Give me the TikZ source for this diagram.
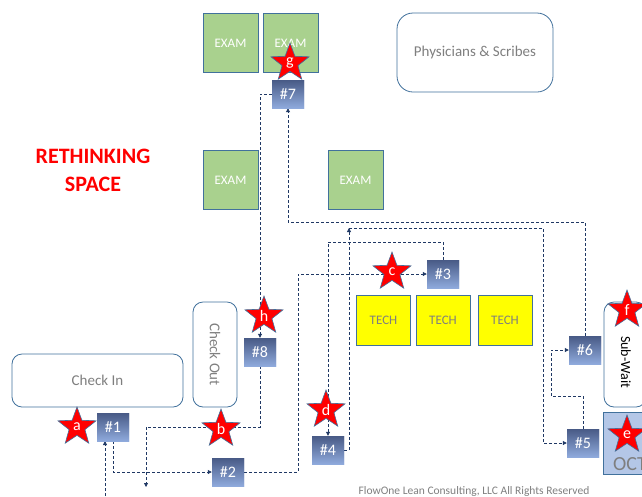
\documentclass[tikz,border=0pt]{standalone}
\usepackage{fontspec}
\setmainfont{Carlito}
\usetikzlibrary{shapes.geometric,arrows.meta}
\definecolor{flowblue}{HTML}{1F3864}
\definecolor{roomedge}{HTML}{41719C}
\definecolor{examgreen}{HTML}{A9D18E}
\definecolor{techyellow}{HTML}{FFFF00}
\definecolor{octblue}{HTML}{B4C7E7}
\definecolor{numtop}{HTML}{485A86}
\definecolor{numbot}{HTML}{8FAADC}
\definecolor{textgray}{HTML}{7F7F7F}
\tikzset{
  flow/.style={draw=flowblue, line width=0.8pt, dash pattern=on 3pt off 2pt},
  flowtip/.style={-{Triangle[length=4pt,width=4pt]}},
  exam/.style={rectangle, fill=examgreen, draw=roomedge, line width=0.7pt,
    minimum width=55pt, minimum height=59pt, text=white,
    font=\fontsize{13}{13}\selectfont},
  tech/.style={rectangle, fill=techyellow, draw=roomedge, line width=0.7pt,
    minimum width=54pt, minimum height=50pt, text=textgray,
    font=\fontsize{13}{13}\selectfont},
  area/.style={rectangle, rounded corners=10pt, draw=roomedge, line width=0.8pt,
    fill=white, text=textgray, font=\fontsize{15}{15}\selectfont},
  stepnum/.style={rectangle, minimum width=32pt, minimum height=28pt,
    top color=numtop, bottom color=numbot, text=white, inner sep=0pt,
    font=\fontsize{16}{16}\selectfont},
  flag/.style={star, star points=5, star point ratio=2.4, fill=red,
    draw=roomedge, line width=0.6pt, minimum size=40pt, inner sep=0pt,
    text=white, font=\fontsize{16}{16}\selectfont}
}
\begin{document}
\begin{tikzpicture}[x=1pt,y=-1pt]
\useasboundingbox (0,0) rectangle (642,496);
\clip (0,0) rectangle (642,496);
% Title
\node[text=red, font=\bfseries\fontsize{22}{28}\selectfont, align=center] (title) at (93,170) {RETHINKING\\SPACE};
% Rooms
\node[exam] (exam1) at (230.5,43) {EXAM};
\node[exam] (exam2) at (290.5,43) {EXAM};
\node[exam] (exam3) at (230.5,180) {EXAM};
\node[exam] (exam4) at (355.5,180) {EXAM};
\node[tech] (tech1) at (383.5,320) {TECH};
\node[tech] (tech2) at (443,320) {TECH};
\node[tech] (tech3) at (505,320) {TECH};
\node[area, rounded corners=16pt, minimum width=156pt, minimum height=79pt] (phys) at (475,52.5) {Physicians \& Scribes};
\node[area, minimum width=171pt, minimum height=53pt] (checkin) at (97.5,380.5) {Check In};
\node[area, minimum width=44pt, minimum height=105pt] (checkout) at (215,354.5) {};
\node[rotate=-90, text=textgray, font=\fontsize{15}{15}\selectfont] (checkoutlbl) at (checkout.center) {Check Out};
\node[area, minimum width=42pt, minimum height=105pt] (subwait) at (625,354.5) {};
\node[rotate=-90, text=black, font=\fontsize{14}{14}\selectfont] (subwaitlbl) at (626,362) {Sub-Wait};
\node[rectangle, fill=octblue, draw=roomedge, line width=0.8pt, minimum width=48pt, minimum height=62pt] (oct) at (627,443) {};
\node[text=textgray, font=\fontsize{20}{20}\selectfont] (octlbl) at (630,464) {OCT};
% Flow connectors
\coordinate (entry) at (105,496);
\coordinate (exit) at (146,487);
\coordinate (hub) at (349,228);
\draw[flow,flowtip] (entry) -- (entry |- 0,441);
\node[stepnum] (n1) at (113,427) {\#1};
\node[stepnum] (n2) at (228,472) {\#2};
\node[stepnum] (n3) at (443,274) {\#3};
\node[stepnum] (n4) at (328,450) {\#4};
\node[stepnum] (n5) at (583,443) {\#5};
\node[stepnum] (n6) at (585,350) {\#6};
\node[stepnum] (n7) at (288,94) {\#7};
\node[stepnum] (n8) at (260,352) {\#8};
\draw[flow,flowtip] (n1.south) |- (n2.west);
\draw[flow,flowtip] (n2.east) -| (298,300) |- (n3.west);
\draw[flow,flowtip] (n3.north) |- (328,242) -- (n4.north);
\draw[flow,flowtip] (n4.east) -| (hub);
\draw[flow,flowtip] (hub) -| (543,300) |- (n5.west);
\draw[flow,flowtip] (n5.north) |- (551,396) |- (n6.west);
\draw[flow,flowtip] (n6.north) |- (n7.south |- 0,222) -- (n7.south);
\draw[flow,flowtip] (n7.west) -| (n8.north);
\draw[flow,flowtip] (n8.south) |- (exit |- 0,427) -- (exit);
% Redraw step boxes over the lines
\node[stepnum] at (n1) {\#1};
\node[stepnum] at (n2) {\#2};
\node[stepnum] at (n3) {\#3};
\node[stepnum] at (n4) {\#4};
\node[stepnum] at (n5) {\#5};
\node[stepnum] at (n6) {\#6};
\node[stepnum] at (n7) {\#7};
\node[stepnum] at (n8) {\#8};
% Stars
\node[flag] (sa) at (77,427) {a};
\node[flag] (sb) at (221,429) {b};
\node[flag] (sc) at (392,272) {c};
\node[flag] (sd) at (326,410) {d};
\node[flag] (se) at (627,435) {e};
\node[flag] (sf) at (627,310) {f};
\node[flag] (sg) at (290,63) {g};
\node[flag] (sh) at (264,316) {h};
% Footer
\node[text=textgray, font=\fontsize{11.5}{11.5}\selectfont] (footer) at (474,491) {FlowOne Lean Consulting, LLC All Rights Reserved};
\end{tikzpicture}
\end{document}
